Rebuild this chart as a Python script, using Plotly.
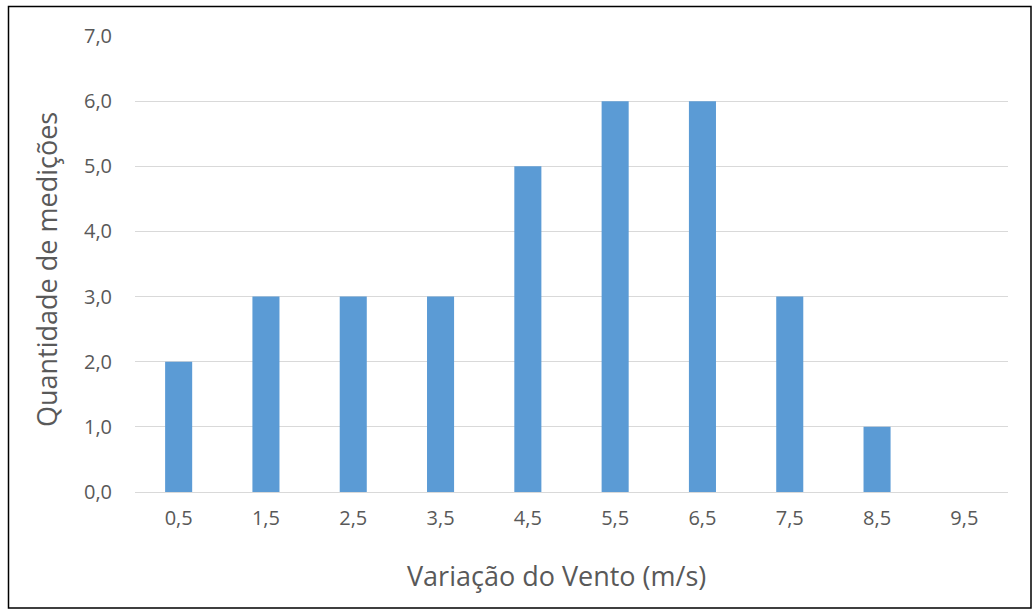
import plotly.graph_objects as go

# Wind speed classes (m/s) and number of measurements in each class
categories = ["0,5", "1,5", "2,5", "3,5", "4,5", "5,5", "6,5", "7,5", "8,5", "9,5"]
counts = [2, 3, 3, 3, 5, 6, 6, 3, 1, 0]
y_ticks = [0, 1, 2, 3, 4, 5, 6, 7]
y_tick_labels = ["0,0", "1,0", "2,0", "3,0", "4,0", "5,0", "6,0", "7,0"]
x_title = "Variação do Vento (m/s)"
y_title = "Quantidade de medições"

W, H = 1033, 610
L, R, T, B = 135, 25, 36, 118
pw, ph = W - L - R, H - T - B

font_family = "'Open Sans', sans-serif"
text_color = "#595959"

fig = go.Figure(
    go.Bar(
        x=categories,
        y=counts,
        marker=dict(color="#5B9BD5", line=dict(width=0)),
        hovertemplate="%{x}: %{y}<extra></extra>",
    )
)

# pixel -> paper coordinate helpers
def px_x(p):
    return (p - L) / pw

def px_y(p):
    return (H - B - p) / ph

# outer frame around the chart
fig.add_shape(
    type="rect", xref="paper", yref="paper",
    x0=px_x(8.5), x1=px_x(1031), y0=px_y(608), y1=px_y(6.5),
    line=dict(color="#000000", width=1.5), fillcolor="rgba(0,0,0,0)",
)

# axis titles
fig.add_annotation(
    text=x_title, xref="paper", yref="paper",
    x=px_x(556), y=px_y(575), xanchor="center", yanchor="middle",
    showarrow=False, font=dict(size=27, color=text_color),
)
fig.add_annotation(
    text=y_title, xref="paper", yref="paper", textangle=-90,
    x=px_x(46), y=px_y(270), xanchor="center", yanchor="middle",
    showarrow=False, font=dict(size=27, color=text_color),
)

fig.update_layout(
    width=W, height=H,
    margin=dict(l=L, r=R, t=T, b=B, pad=0),
    paper_bgcolor="white", plot_bgcolor="white",
    bargap=0.69,
    showlegend=False,
    font=dict(family=font_family, color=text_color),
    xaxis=dict(
        type="category",
        showgrid=False, showline=False, zeroline=False,
        ticks="", tickfont=dict(size=20, color=text_color),
        ticklabelstandoff=12,
    ),
    yaxis=dict(
        range=[0, 7],
        tickvals=y_ticks, ticktext=y_tick_labels,
        showgrid=True, gridcolor="#D9D9D9", gridwidth=1,
        zeroline=True, zerolinecolor="#D9D9D9", zerolinewidth=1,
        showline=False, ticks="",
        tickfont=dict(size=20, color=text_color),
        ticklabelstandoff=22,
    ),
)

fig.write_html("out.html")
